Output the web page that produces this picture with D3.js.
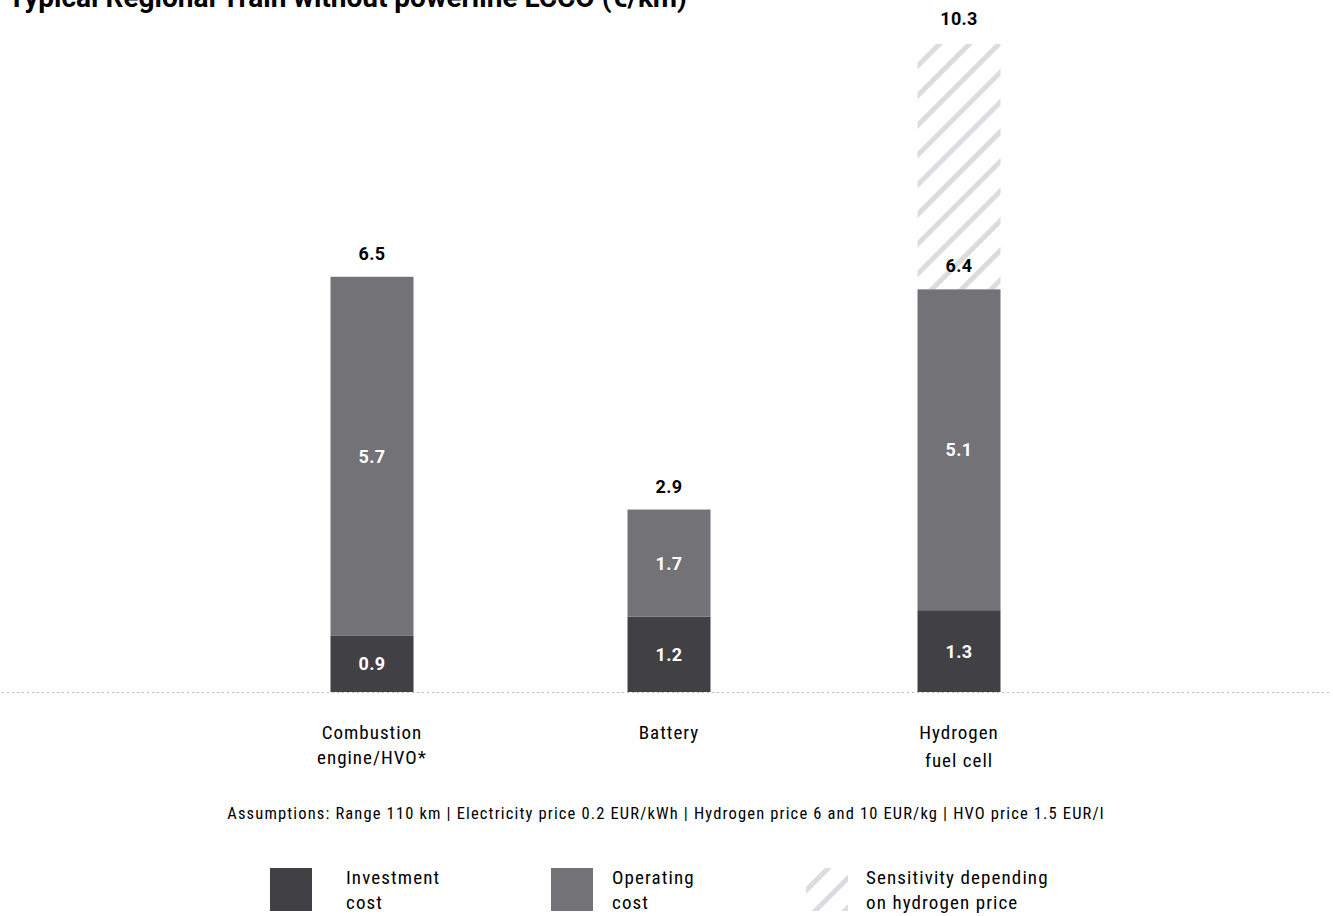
<!DOCTYPE html>
<html><head><meta charset="utf-8">
<script src="https://cdn.jsdelivr.net/npm/d3@7"></script>
<style>
html,body{margin:0;padding:0;background:#fff;}
svg{display:block;}
</style></head>
<body>
<svg id="chart" width="1333" height="916"></svg>
<script>
const categories = ["Combustion engine/HVO*", "Battery", "Hydrogen fuel cell"];
const categoryLines = [["Combustion", "engine/HVO*"], ["Battery"], ["Hydrogen", "fuel cell"]];
const investment = [0.9, 1.2, 1.3];
const operating = [5.7, 1.7, 5.1];
const sensitivityTop = [null, null, 10.3];
const totalLabels = ["6.5", "2.9", "6.4"];
const sensitivityLabels = [null, null, "10.3"];
const legendItems = [["Investment", "cost"], ["Operating", "cost"], ["Sensitivity depending", "on hydrogen price"]];
const titleText = "Typical Regional Train without powerline LCCO (€/km)";
const assumptionsText = "Assumptions: Range 110 km | Electricity price 0.2 EUR/kWh | Hydrogen price 6 and 10 EUR/kg | HVO price 1.5 EUR/l";

const colInv = "#414045", colOp = "#737277", colHatch = "#dcdce0";
const fontMain = "Roboto, 'Liberation Sans', sans-serif";
const fontCond = "'Roboto Condensed', 'Liberation Sans Narrow', 'DejaVu Sans Condensed', Roboto, sans-serif";

const svg = d3.select("#chart");
const defs = svg.append("defs");
const pat = defs.append("pattern").attr("id", "hatch").attr("patternUnits", "userSpaceOnUse")
  .attr("width", 21).attr("height", 21).attr("patternTransform", "rotate(45)");
pat.append("rect").attr("x", 0).attr("y", 0).attr("width", 5).attr("height", 21).attr("fill", colHatch);

const baseY = 692;
const y = d3.scaleLinear().domain([0, 10.3]).range([baseY, 44]);
const x = d3.scaleOrdinal().domain(categories).range([372, 669, 959]);
const bw = 83;

svg.append("text").attr("x", 8).attr("y", 7).text(titleText)
  .attr("font-family", fontMain).attr("font-weight", 700).attr("font-size", 28).attr("fill", "#000");

svg.append("line").attr("x1", 2).attr("x2", 1331).attr("y1", baseY + 0.5).attr("y2", baseY + 0.5)
  .attr("stroke", "#bdbdbd").attr("stroke-width", 1).attr("stroke-dasharray", "2,3");

const data = categories.map((c, i) => ({c, i, inv: investment[i], op: operating[i], sens: sensitivityTop[i]}));

const g = svg.append("g");
g.selectAll("rect.sens").data(data.filter(d => d.sens != null)).join("rect")
  .attr("x", d => x(d.c) - bw / 2).attr("width", bw)
  .attr("y", d => y(d.sens)).attr("height", d => y(d.inv + d.op) - y(d.sens))
  .attr("fill", "url(#hatch)");
g.selectAll("rect.inv").data(data).join("rect")
  .attr("x", d => x(d.c) - bw / 2).attr("width", bw)
  .attr("y", d => y(d.inv)).attr("height", d => y(0) - y(d.inv)).attr("fill", colInv);
g.selectAll("rect.op").data(data).join("rect")
  .attr("x", d => x(d.c) - bw / 2).attr("width", bw)
  .attr("y", d => y(d.inv + d.op)).attr("height", d => y(d.inv) - y(d.inv + d.op)).attr("fill", colOp);

const num = (sel) => sel.attr("text-anchor", "middle").attr("font-family", fontMain).attr("font-weight", 700)
  .attr("font-size", 18).attr("letter-spacing", 0.3);
data.forEach(d => {
  num(g.append("text").attr("x", x(d.c)).attr("y", (y(0) + y(d.inv)) / 2 + 6.5).text(d.inv.toFixed(1))).attr("fill", "#fff");
  num(g.append("text").attr("x", x(d.c)).attr("y", (y(d.inv) + y(d.inv + d.op)) / 2 + 6.5).text(d.op.toFixed(1))).attr("fill", "#fff");
  num(g.append("text").attr("x", x(d.c)).attr("y", y(d.inv + d.op) - 17).text(totalLabels[d.i])).attr("fill", "#000");
  if (d.sens != null) {
    num(g.append("text").attr("x", x(d.c)).attr("y", y(d.sens) - 19).text(sensitivityLabels[d.i])).attr("fill", "#000");
  }
  categoryLines[d.i].forEach((ln, k) => {
    svg.append("text").attr("x", x(d.c)).attr("y", 739 + k * (d.i === 2 ? 28 : 25)).text(ln)
      .attr("text-anchor", "middle").attr("font-family", fontCond).attr("font-size", 19)
      .attr("letter-spacing", 1.0).attr("fill", "#000");
  });
});

svg.append("text").attr("x", 666).attr("y", 819).text(assumptionsText)
  .attr("text-anchor", "middle").attr("font-family", fontCond).attr("font-size", 16.5)
  .attr("letter-spacing", 1.15).attr("fill", "#000");

const legX = [270, 551, 806];
const legTextX = [346, 612, 866];
const legFill = [colInv, colOp, "url(#hatch)"];
legendItems.forEach((lines, i) => {
  svg.append("rect").attr("x", legX[i]).attr("y", 868).attr("width", 42).attr("height", 43).attr("fill", legFill[i]);
  lines.forEach((ln, k) => {
    svg.append("text").attr("x", legTextX[i]).attr("y", 884 + k * 25).text(ln)
      .attr("font-family", fontCond).attr("font-size", 19).attr("letter-spacing", 1.1).attr("fill", "#000");
  });
});
</script>
</body></html>
